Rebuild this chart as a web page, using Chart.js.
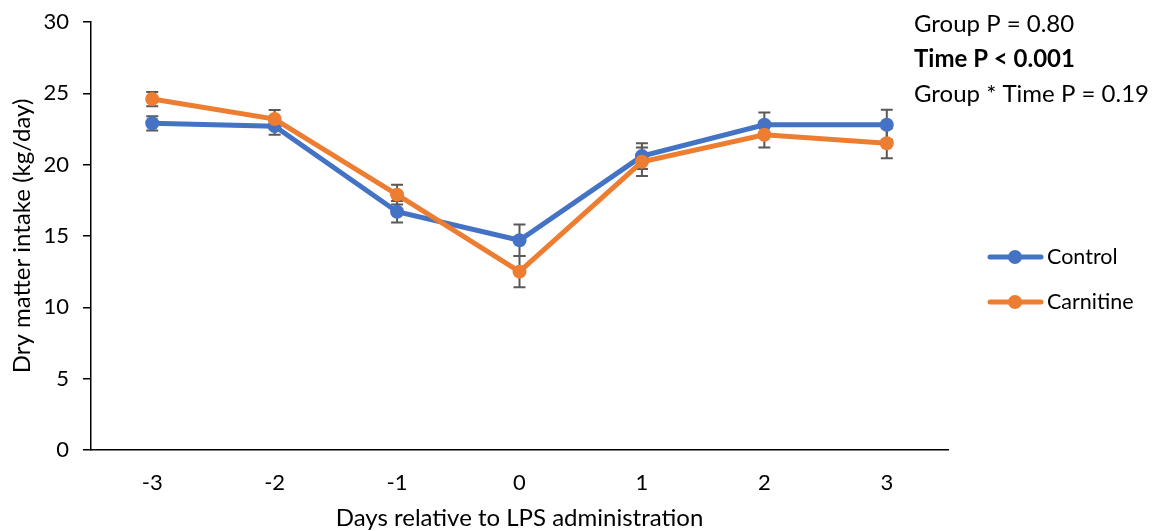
<!DOCTYPE html>
<html>
<head>
<meta charset="utf-8">
<script src="https://cdn.jsdelivr.net/npm/chart.js@4.4.0/dist/chart.umd.min.js"></script>
<style>
  html, body { margin: 0; padding: 0; background: #fff; }
  #wrap { width: 1161px; height: 531px; }
</style>
</head>
<body>
<div id="wrap"><canvas id="chartDmi"></canvas></div>
<script>
// Dry matter intake around LPS challenge, control vs carnitine

var days = ['-3', '-2', '-1', '0', '1', '2', '3'];
var controlDmi = [22.9, 22.7, 16.7, 14.7, 20.6, 22.8, 22.8];
var controlSem = [0.5, 0.6, 0.75, 1.1, 0.9, 0.85, 1.05];
var carnitineDmi = [24.6, 23.2, 17.9, 12.5, 20.2, 22.1, 21.5];
var carnitineSem = [0.5, 0.63, 0.7, 1.1, 1.0, 0.9, 1.05];
var yTicks = [0, 5, 10, 15, 20, 25, 30];
var statsLines = ['Group P = 0.80', 'Time P < 0.001', 'Group * Time P = 0.19'];

var FONT = 'Lato, "Open Sans", sans-serif';
var BLUE = '#4472C4';
var ORANGE = '#ED7D31';

// error bars drawn under the lines
var errorBarPlugin = {
    id: 'errorBars',
    beforeDatasetsDraw: function (chart) {
        var ctx = chart.ctx;
        var yScale = chart.scales.y;
        ctx.save();
        ctx.strokeStyle = '#595959';
        ctx.lineWidth = 2;
        chart.data.datasets.forEach(function (ds, i) {
            var meta = chart.getDatasetMeta(i);
            meta.data.forEach(function (pt, j) {
                var v = ds.data[j];
                var e = ds.errors[j];
                var yTop = yScale.getPixelForValue(v + e);
                var yBot = yScale.getPixelForValue(v - e);
                ctx.beginPath();
                ctx.moveTo(pt.x, yTop); ctx.lineTo(pt.x, yBot);
                ctx.moveTo(pt.x - 6, yTop); ctx.lineTo(pt.x + 6, yTop);
                ctx.moveTo(pt.x - 6, yBot); ctx.lineTo(pt.x + 6, yBot);
                ctx.stroke();
            });
        });
        ctx.restore();
    }
};

// legend on the right + stats text in the corner
var sideTextPlugin = {
    id: 'sideText',
    afterDraw: function (chart) {
        var ctx = chart.ctx;
        ctx.save();
        ctx.textAlign = 'left';
        ctx.fillStyle = '#000';

        ctx.textBaseline = 'middle';
        var legendY = [257, 302];
        chart.data.datasets.forEach(function (ds, i) {
            var y = legendY[i];
            ctx.strokeStyle = ds.borderColor;
            ctx.lineWidth = 5;
            ctx.lineCap = 'round';
            ctx.beginPath();
            ctx.moveTo(990, y); ctx.lineTo(1041, y);
            ctx.stroke();
            ctx.fillStyle = ds.borderColor;
            ctx.beginPath();
            ctx.arc(1015, y, 7, 0, Math.PI * 2);
            ctx.fill();
            ctx.fillStyle = '#000';
            ctx.font = '21.5px ' + FONT;
            ctx.fillText(ds.label, 1047, y);
        });

        ctx.textBaseline = 'alphabetic';
        var statY = [32, 67, 102];
        statsLines.forEach(function (txt, i) {
            ctx.font = (i === 1 ? 'bold ' : '') + '24px ' + FONT;
            ctx.fillText(txt, 914, statY[i]);
        });
        ctx.restore();
    }
};

new Chart(document.getElementById('chartDmi'), {
    type: 'line',
    data: {
        labels: days,
        datasets: [
            {
                label: 'Control', data: controlDmi, errors: controlSem,
                borderColor: BLUE, backgroundColor: BLUE,
                borderWidth: 5, pointRadius: 7, pointHoverRadius: 7,
                pointBorderWidth: 0, tension: 0, order: 1
            },
            {
                label: 'Carnitine', data: carnitineDmi, errors: carnitineSem,
                borderColor: ORANGE, backgroundColor: ORANGE,
                borderWidth: 5, pointRadius: 7, pointHoverRadius: 7,
                pointBorderWidth: 0, tension: 0, order: 0
            }
        ]
    },
    options: {
        responsive: true,
        maintainAspectRatio: false,
        animation: false,
        layout: { padding: { left: 0, right: 213, top: 22, bottom: 0 } },
        plugins: { legend: { display: false }, tooltip: { enabled: false } },
        scales: {
            x: {
                type: 'category',
                offset: true,
                grid: { display: false },
                border: { display: true, color: '#000', width: 1.5 },
                ticks: { color: '#000', font: { family: FONT, size: 22 }, padding: 12 },
                title: {
                    display: true, text: 'Days relative to LPS administration', color: '#000',
                    font: { family: FONT, size: 24, lineHeight: 1.1 }, padding: { top: 0, bottom: 0 }
                },
                afterFit: function (s) { s.height = 81; }
            },
            y: {
                min: 0, max: 30,
                afterBuildTicks: function (s) { s.ticks = yTicks.map(function (v) { return { value: v }; }); },
                grid: { drawOnChartArea: false, drawTicks: true, tickLength: 8, color: '#000', lineWidth: 1.5 },
                border: { display: true, color: '#000', width: 1.5 },
                ticks: { color: '#000', font: { family: FONT, size: 22 }, padding: 14 },
                title: {
                    display: true, text: 'Dry matter intake (kg/day)', color: '#000',
                    font: { family: FONT, size: 24, lineHeight: 1.1 }, padding: { top: 9, bottom: 0 }
                },
                afterFit: function (s) { s.width = 91; s.paddingTop = 0; s.paddingBottom = 0; }
            }
        }
    },
    plugins: [errorBarPlugin, sideTextPlugin]
});
</script>
</body>
</html>
